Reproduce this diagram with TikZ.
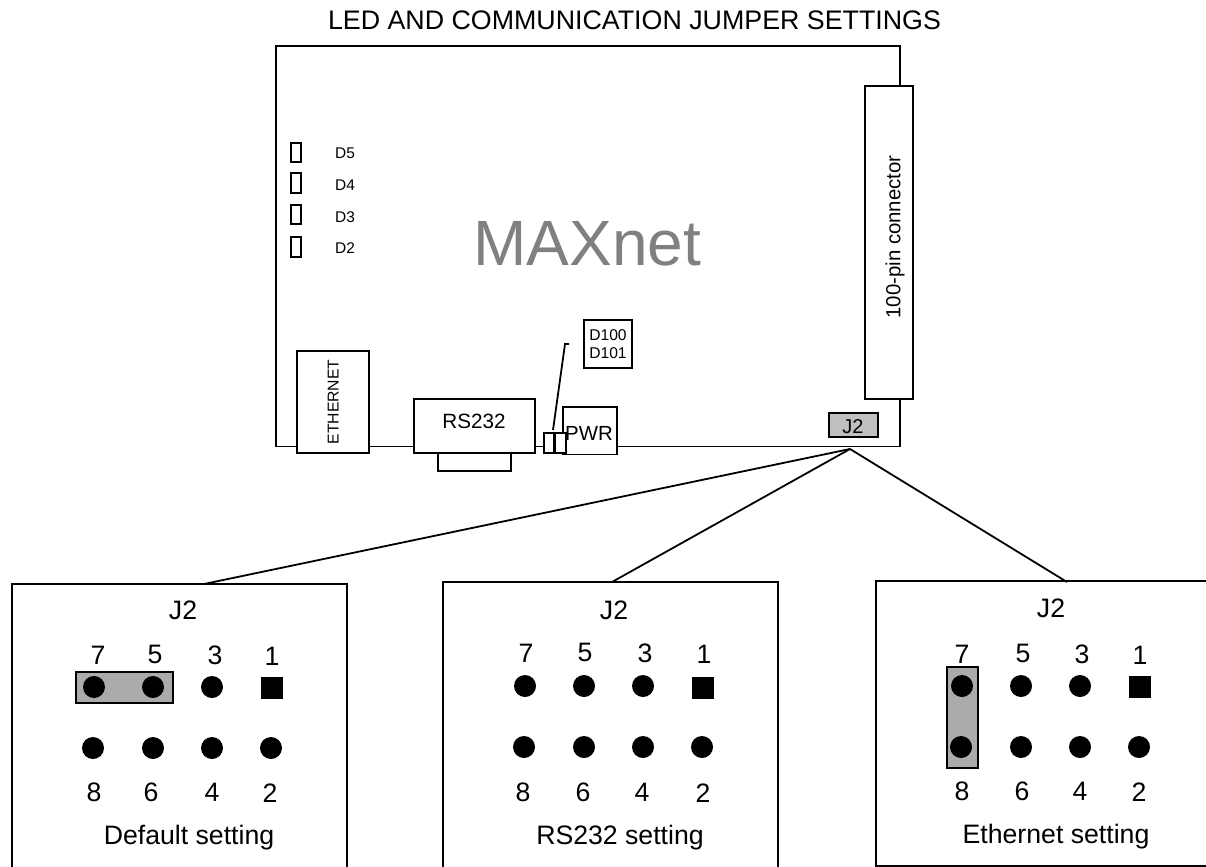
\documentclass[tikz,border=0pt]{standalone}
\usepackage{fontspec}
\setmainfont{Liberation Sans}
\newcommand{\pxbox}[6][plain]{\node[#1,minimum width={(#5-#3)*0.75pt},minimum height={(#6-#4)*0.75pt}] (#2) at ({(#3+#5)/2},{(#4+#6)/2}) {};}
\newcommand{\pxfont}[1]{\fontsize{#1}{#1}\selectfont}
\tikzset{
  plain/.style={draw=black,line width=1.35pt,fill=white,rectangle,inner sep=0pt,outer sep=0pt},
  jumper/.style={plain,fill=jumpergray},
  chip/.style={plain,fill=chipgray},
  txt/.style={inner sep=0pt,outer sep=0pt,text depth=0pt,align=center},
  big/.style={txt,font=\pxfont{20},text height=14.3pt},
  mid/.style={txt,font=\pxfont{15.3},text height=11pt},
  small/.style={txt,font=\pxfont{11.6},text height=8.3pt},
  huge/.style={txt,font=\pxfont{48},text height=34.4pt,text=titlegray},
  pin/.style={circle,fill=black,draw=none,minimum size=16.5pt,inner sep=0pt,outer sep=0pt},
  sqpin/.style={rectangle,fill=black,draw=none,minimum size=16.5pt,inner sep=0pt,outer sep=0pt},
  wire/.style={line width=1.35pt,draw=black},
}
\definecolor{jumpergray}{HTML}{ABABAB}
\definecolor{chipgray}{HTML}{C0C0C0}
\definecolor{titlegray}{HTML}{808080}
\begin{document}
\begin{tikzpicture}[x=0.75pt,y=-0.75pt]
\useasboundingbox (0,0) rectangle (1206,867);
\fill[white] (0,0) rectangle (1206,867);
\node[big,font=\pxfont{20.1}] (title) at (634.5,20) {LED AND COMMUNICATION JUMPER SETTINGS};
% board
\pxbox{board}{276}{46}{900}{446.5}
\pxbox{conn}{865}{86}{913}{399}
\pxbox{eth}{297}{351}{369}{453}
\pxbox{dsub}{438}{453}{511}{471}
\pxbox{rs}{414}{399}{535}{453}
\pxbox{pwr}{563}{407}{617}{454.5}
\pxbox{ledA}{544}{433}{554}{453}
\pxbox{ledB}{555}{433}{566}{453}
\pxbox{dbox}{584}{320}{632}{368}
\pxbox[chip]{jtwo}{829}{413}{878}{437}
\pxbox{dfive}{291}{143}{301}{162}
\pxbox{dfour}{291}{173}{301}{193}
\pxbox{dthree}{291}{205}{301}{224}
\pxbox{dtwo}{291}{237}{301}{257}
\node[small] (ld5) at (345,153) {D5};
\node[small] (ld4) at (345,185) {D4};
\node[small] (ld3) at (345,217) {D3};
\node[small] (ld2) at (345,248) {D2};
\node[huge] (maxnet) at (587.5,243) {MAXnet};
\node[mid,rotate=90] (conntxt) at (893,237) {100-pin connector};
\node[small,font=\pxfont{11.8},rotate=90] (ethtxt) at (333,402) {ETHERNET};
\node[mid,font=\pxfont{15.5}] (rstxt) at (474,421) {RS232};
\node[mid] (pwrtxt) at (589,433) {PWR};
\node[mid,font=\pxfont{15}] (jtxt) at (853,426) {J2};
\node[small,font=\pxfont{11.7}] (d100) at (608,335) {D100};
\node[small,font=\pxfont{11.7}] (d101) at (608,353) {D101};
\coordinate (bend) at (565,344);
\coordinate (tick) at (569,344);
\draw[wire] (tick) -- (bend) -- (553,430) coordinate (ledtop);
% panels
\pxbox{pa}{12}{584}{347}{872}
\pxbox{pb}{443}{582}{778}{872}
\pxbox{pc}{876}{581}{1212}{866}
\coordinate (apex) at (850,449);
\coordinate (ca) at (204,584);
\coordinate (cb) at (612,582);
\coordinate (cc) at (1067,582);
\draw[wire] (apex) -- (ca);
\draw[wire] (apex) -- (cb);
\draw[wire] (apex) -- (cc);
% panel A
\pxbox[jumper]{ja}{76}{672}{173}{703}
\node[big] (atitle) at (183,610) {J2};
\node[big] (aset) at (189,835) {Default setting};
\foreach \n/\x/\y in {7/98/655,5/155/654,3/215/655,1/272/656,8/94/792,6/151/792,4/212/792,2/270/793}
  \node[big] (at\n) at (\x,\y) {\n};
\foreach \n/\x/\y in {p7/94/687,p5/153/687,p3/212/687,p8/93/748,p6/153/748,p4/212/748,p2/271/748}
  \node[pin] (a\n) at (\x,\y) {};
\node[sqpin] (ap1) at (272,688) {};
% panel B
\node[big] (btitle) at (614,610) {J2};
\node[big] (bset) at (620,835) {RS232 setting};
\foreach \n/\x/\y in {7/526/653,5/585/652,3/645/653,1/704/654,8/523/792,6/583/792,4/642/792,2/703/793}
  \node[big] (bt\n) at (\x,\y) {\n};
\foreach \n/\x/\y in {p7/525/686,p5/584/686,p3/643/686,p8/524/747,p6/584/747,p4/643/747,p2/702/747}
  \node[pin] (b\n) at (\x,\y) {};
\node[sqpin] (bp1) at (703,687.5) {};
% panel C
\pxbox[jumper]{jc}{947}{667}{978}{768}
\node[big] (ctitle) at (1051,608) {J2};
\node[big] (cset) at (1056,834) {Ethernet setting};
\foreach \n/\x/\y in {7/962/654,5/1023/653,3/1082/654,1/1140/655,8/962/791,6/1022/791,4/1080/791,2/1139/792}
  \node[big] (ct\n) at (\x,\y) {\n};
\foreach \n/\x/\y in {p7/962/686,p5/1021/686,p3/1080/686,p8/961/747,p6/1021/747,p4/1080/747,p2/1139/747}
  \node[pin] (c\n) at (\x,\y) {};
\node[sqpin] (cp1) at (1140,687) {};
\end{tikzpicture}
\end{document}
